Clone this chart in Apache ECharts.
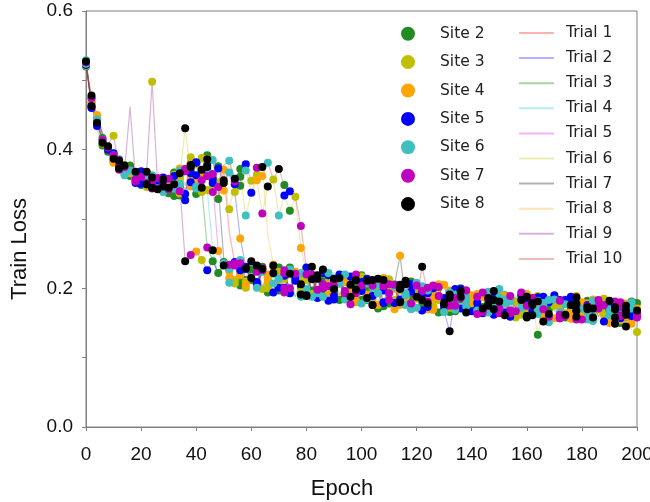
<!DOCTYPE html>
<html><head><meta charset="utf-8">
<script src="https://cdn.jsdelivr.net/npm/echarts@6/dist/echarts.min.js"></script>
<style>html,body{margin:0;padding:0;background:#fff}#c{width:650px;height:502px}</style>
</head><body><div id="c"></div>
<script>
const epochStep = 2;
const xTicks = [0,20,40,60,80,100,120,140,160,180,200];
const yTicks = [0.0,0.2,0.4,0.6];
const siteNames = ['Site 2','Site 3','Site 4','Site 5','Site 6','Site 7','Site 8'];
const siteIds = [2,3,4,5,6,7,8];
const trialNames = ['Trial 1','Trial 2','Trial 3','Trial 4','Trial 5','Trial 6','Trial 7','Trial 8','Trial 9','Trial 10'];

const trial1 = [.522,.468,.445,.412,.405,.384,.386,.366,.373,.354,.369,.348,.362,.343,.358,.337,
.366,.341,.372,.353,.384,.339,.375,.358,.329,.371,.281,.236,.241,.210,.227,
.233,.203,.220,.194,.224,.194,.230,.205,.222,.190,.215,.186,.226,.198,.211,
.183,.220,.195,.212,.181,.214,.190,.171,.203,.184,.202,.173,.211,.184,.196,
.168,.201,.181,.206,.177,.194,.167,.199,.176,.188,.163,.191,.178,.196,.170,
.188,.159,.183,.169,.192,.161,.185,.170,.151,.182,.183,.158,.176,.189,.162,
.174,.153,.181,.162,.170,.149,.172,.158,.177,.163];
const trial2 = [.528,.463,.438,.409,.399,.381,.378,.363,.376,.352,.360,.367,.345,.359,.341,.356,
.349,.370,.336,.378,.355,.388,.362,.343,.376,.352,.367,.339,.272,.231,.212,
.198,.226,.209,.233,.201,.225,.196,.214,.188,.220,.192,.219,.201,.226,.187,
.212,.184,.205,.193,.217,.179,.208,.199,.215,.183,.206,.180,.196,.175,.203,
.193,.170,.204,.182,.166,.138,.190,.171,.197,.178,.192,.166,.186,.174,.197,
.165,.187,.172,.194,.160,.186,.163,.179,.158,.190,.157,.181,.166,.187,.173,
.182,.160,.174,.152,.176,.170,.150,.178,.159,.161];
const trial3 = [.520,.475,.450,.424,.401,.392,.379,.377,.362,.370,.355,.350,.363,.346,.354,.340,
.333,.366,.327,.359,.379,.345,.259,.241,.222,.236,
.215,.238,.204,.229,.210,.224,.199,.218,.207,.230,.201,.221,.187,.213,.199,
.220,.195,.210,.182,.214,.190,.209,.177,.204,.196,.207,.185,.199,.212,.178,
.183,.201,.176,.195,.209,.199,.178,.192,.165,.186,.175,.196,.168,.188,.180,
.190,.171,.184,.162,.193,.170,.181,.158,.187,.175,.179,.160,.188,.170,.157,
.165,.184,.171,.155,.179,.176,.158,.169,.183,.161,.155,.173,.162,.147,.171];
const trial4 = [.524,.472,.428,.406,.403,.395,.373,.374,.360,.365,.349,.361,.350,.344,.360,.345,
.361,.334,.372,.347,.381,.356,.342,.255,.219,.238,
.208,.233,.219,.201,.227,.206,.228,.194,.221,.212,.226,.193,.217,.204,.189,
.197,.218,.206,.191,.223,.207,.186,.213,.198,.178,.188,.204,.181,.199,.210,
.179,.199,.188,.170,.204,.194,.176,.200,.183,.171,.189,.169,.184,.197,.174,
.167,.187,.175,.192,.164,.184,.166,.190,.171,.160,.176,.189,.158,.181,.168,
.162,.177,.185,.159,.172,.178,.157,.171,.163,.182,.150,.169,.176,.155,.137];
const trial5 = [.526,.460,.443,.419,.397,.388,.384,.365,.377,.357,.366,.346,.360,.355,.339,.358,
.366,.340,.375,.389,.347,.371,.392,.352,.254,.232,
.234,.207,.226,.212,.239,.203,.224,.208,.231,.197,.218,.200,.224,.191,.212,
.188,.211,.196,.219,.203,.215,.191,.204,.180,.209,.201,.176,.193,.207,.186,
.170,.197,.184,.206,.188,.203,.181,.169,.194,.177,.172,.199,.186,.165,.190,
.185,.173,.195,.168,.181,.163,.189,.178,.192,.167,.184,.169,.152,.180,.175,
.158,.178,.166,.185,.171,.173,.156,.180,.165,.150,.174,.160,.168,.180,.152];
const trial6 = [.521,.478,.434,.417,.392,.392,.371,.378,.361,.363,.351,.364,.344,.358,.347,.341,
.344,.359,.431,.366,.336,.361,.373,.339,.332,.356,.314,.350,.361,.305,.338,.356,.308,.347,.357,.305,.334,.312,.330,
.258,.223,
.231,.198,.222,.190,.213,.186,.210,.199,.220,.183,.211,.189,.176,.202,.193,
.180,.205,.190,.172,.200,.195,.170,.188,.202,.179,.166,.191,.178,.195,.173,
.188,.164,.182,.170,.194,.178,.191,.167,.184,.160,.167,.181,.175,.155,.186,
.177,.160,.184,.168,.163,.160,.179,.165,.185,.171,.181,.162,.145,.170,.160];
const trial7 = [.527,.464,.444,.423,.400,.394,.375,.375,.366,.368,.353,.359,.353,.347,.345,.358,
.350,.373,.336,.381,.363,.341,.377,.385,.346,.243,.225,.236,.208,.228,.215,
.201,.229,.212,.195,.222,.214,.193,.221,.206,.228,.195,.216,.188,.209,.199,
.220,.193,.206,.182,.211,.183,.201,.214,.179,.196,.205,.247,.183,.198,.172,
.183,.199,.174,.191,.205,.170,.186,.196,.174,.190,.179,.193,.165,.186,.171,
.189,.172,.163,.183,.178,.165,.182,.177,.159,.187,.175,.162,.180,.168,.155,
.166,.184,.159,.173,.177,.158,.172,.164,.149,.168];
const trial8 = [.523,.474,.436,.414,.394,.387,.385,.369,.367,.356,.366,.352,.356,.344,.357,.346,
.362,.337,.369,.377,.344,.366,.386,.350,.373,.341,.381,.354,.348,.370,.338,.364,.375,
.278,.234,.222,
.200,.227,.211,.195,.218,.213,.190,.221,.203,.184,.207,.214,.188,.201,.219,
.191,.176,.205,.197,.213,.181,.200,.187,.176,.208,.196,.173,.190,.201,.168,
.186,.171,.195,.179,.167,.174,.190,.169,.183,.199,.183,.168,.180,.162,.188,
.178,.133,.166,.183,.170,.157,.179,.188,.163,.175,.170,.182,.153,.176,.162,
.168,.157,.175,.160,.179];
const trial9 = [.525,.462,.439,.414,.408,.420,.374,.371,.462,.355,.361,.368,.498,.349,.353,.346,
.367,.351,.239,.248,.253,
.241,.226,.239,.221,.233,.228,.212,.236,.205,.225,.209,.231,.200,.222,.214,
.222,.197,.216,.203,.230,.190,.214,.201,.222,.194,.208,.185,.217,.196,.204,
.186,.210,.192,.174,.203,.199,.184,.206,.178,.194,.176,.197,.185,.204,.172,
.191,.175,.200,.168,.184,.168,.188,.176,.194,.172,.190,.164,.181,.172,.158,
.170,.187,.163,.176,.184,.182,.164,.156,.178,.168,.159,.175,.183,.164,.170,
.173,.154,.166,.181,.158];
const trial10 = [.529,.466,.446,.410,.400,.383,.385,.371,.370,.359,.364,.350,.358,.348,.353,.343,
.364,.370,.348,.375,.382,.359,.387,.365,.353,.378,.384,.358,.372,.379,.355,.374,.362,.381,.357,.372,.349,.340,.332,
.290,.229,
.218,.193,.227,.206,.189,.211,.196,.180,.214,.203,.184,.212,.197,.180,.206,
.201,.176,.193,.210,.185,.231,.193,.171,.189,.180,.197,.176,.188,.169,.193,
.171,.194,.184,.166,.187,.161,.185,.173,.190,.168,.186,.167,.179,.163,.175,
.168,.183,.157,.175,.180,.155,.171,.180,.163,.177,.166,.180,.159,.171,.163];

// site used at each recorded point of each trial (0 = no marker)
const sites1  = "52408 36027 50384 20675 03852 40763 28045 37206 84530 72648 05327 46082 35704 86253 07428 63502 48376 05284 27603 58420 7";
const sites2  = "58230 47605 32874 06258 43702 86345 20738 54026 73850 42687 30524 76803 25470 68352 04786 35207 84602 57348 02675 38240 5";
const sites3  = "26405 73820 45637 02854 38702 64528 07346 25803 67425 80372 56408 23765 04832 57206 43875 20634 78052 46327 05843 62780 4";
const sites4  = "63027 58406 24735 80264 57380 26743 05826 47350 82674 03528 64702 35846 72053 48627 30485 76203 58342 07658 24370 86524 3";
const sites5  = "75302 48627 03856 42703 68254 07352 84603 25748 36025 78403 52867 04325 86740 23578 40263 85704 32685 07423 68530 42786 0";
const sites6  = "38520 67304 52748 06385 24670 83526 04783 65204 38752 60437 28540 73862 05347 82604 37528 46073 25864 30758 42603 57284 6";
const sites7  = "84603 25748 36025 78403 52867 04325 86740 23578 40263 85704 32685 07423 68530 42786 05362 74038 52647 03825 76402 38654 8";
const sites8  = "47360 82543 07268 35470 62835 40726 53804 27653 08427 56380 24765 30842 67503 28476 50328 64703 85246 07352 48607 32585 2";
const sites9  = "25870 34602 78345 02687 43520 86374 05238 67402 53876 20453 78602 34587 02643 58720 36485 02736 84520 67348 20573 68402 7";
const sites10 = "60385 27463 08524 73608 52473 06825 37460 82537 40682 53704 26835 70462 38507 24683 05742 68305 27468 30527 46830 52746 3";

const trials = [trial1,trial2,trial3,trial4,trial5,trial6,trial7,trial8,trial9,trial10];
const siteStrs = [sites1,sites2,sites3,sites4,sites5,sites6,sites7,sites8,sites9,sites10];

const siteColors = ['#228b22','#bfbf00','#ffa500','#0000ff','#3fbfbf','#bf00bf','#000000'];
const trialColors = ['rgba(255,0,0,0.3)','rgba(0,0,255,0.3)','rgba(0,128,0,0.35)','rgba(0,200,200,0.3)',
 'rgba(230,0,230,0.3)','rgba(191,191,0,0.3)','rgba(0,0,0,0.3)','rgba(255,165,0,0.3)',
 'rgba(128,0,128,0.3)','rgba(200,30,30,0.3)'];

const series = [];
trials.forEach((vals, t) => {
  series.push({
    name: trialNames[t], type: 'line', symbol: 'none', showSymbol: false,
    data: vals.map((v, i) => [i * epochStep, v]),
    lineStyle: {color: trialColors[t], width: 1.2}, itemStyle: {color: trialColors[t]},
    z: 2, silent: true
  });
});
const siteData = siteIds.map(() => []);
trials.forEach((vals, t) => {
  const codes = siteStrs[t].replace(/ /g, '').split('').map(Number);
  vals.forEach((v, i) => {
    const s = codes[i];
    if (s) siteData[siteIds.indexOf(s)].push([i * epochStep, v]);
  });
});
siteIds.forEach((s, k) => {
  series.push({
    name: siteNames[k], type: 'scatter', symbol: 'circle', symbolSize: 8,
    data: siteData[k], itemStyle: {color: siteColors[k], opacity: 1}, z: 3, silent: true
  });
});

const chart = echarts.init(document.getElementById('c'), null, {renderer: 'canvas'});
chart.setOption({
  animation: false,
  backgroundColor: '#fff',
  grid: {left: 86, right: 13, top: 11, bottom: 75, show: true, borderColor: '#7f7f7f', borderWidth: 1,
         containLabel: false, outerBoundsMode: 'none'},
  legend: [{
    data: siteNames, orient: 'vertical', left: 401, top: 25.7, padding: 0, icon: 'circle',
    itemWidth: 54, itemHeight: 14, itemGap: 12.4,
    textStyle: {fontFamily: 'DejaVu Sans', fontSize: 15.5, color: '#222'}
  }, {
    data: trialNames, orient: 'vertical', left: 518, top: 25, padding: 0,
    itemWidth: 35, itemHeight: 14, itemGap: 9.1,
    lineStyle: {width: 2}, itemStyle: {opacity: 0},
    textStyle: {fontFamily: 'DejaVu Sans', fontSize: 15.5, color: '#222', padding: [0, 0, 0, 7]}
  }],
  xAxis: {
    type: 'value', min: 0, max: 200, interval: 20,
    name: 'Epoch', nameLocation: 'middle', nameGap: 51,
    nameTextStyle: {fontFamily: 'Liberation Sans', fontSize: 22, color: '#111', padding: [0, 39, 0, 0]},
    axisLine: {show: true, lineStyle: {color: '#7f7f7f'}},
    axisTick: {show: true, inside: false, length: 4, lineStyle: {color: '#7f7f7f'}},
    axisLabel: {fontFamily: 'Liberation Sans', fontSize: 19, color: '#111', margin: 18,
      formatter: v => xTicks.includes(Math.round(v)) ? String(Math.round(v)) : ''},
    splitLine: {show: false}
  },
  yAxis: {
    type: 'value', min: 0, max: 0.6, interval: 0.1,
    name: 'Train Loss', nameLocation: 'middle', nameGap: 55, nameRotate: 90,
    nameTextStyle: {fontFamily: 'Liberation Sans', fontSize: 22, color: '#111', padding: [0, 60, 0, 0]},
    axisLine: {show: true, lineStyle: {color: '#7f7f7f'}},
    axisTick: {show: true, inside: false, length: 4, lineStyle: {color: '#7f7f7f'}},
    axisLabel: {fontFamily: 'Liberation Sans', fontSize: 19, color: '#111', margin: 13,
      formatter: v => {
        const r = Math.round(v * 10) / 10;
        return yTicks.some(t => Math.abs(t - r) < 1e-6) ? r.toFixed(1) : '';
      }},
    splitLine: {show: false}
  },
  series: series
});
</script>
</body></html>
